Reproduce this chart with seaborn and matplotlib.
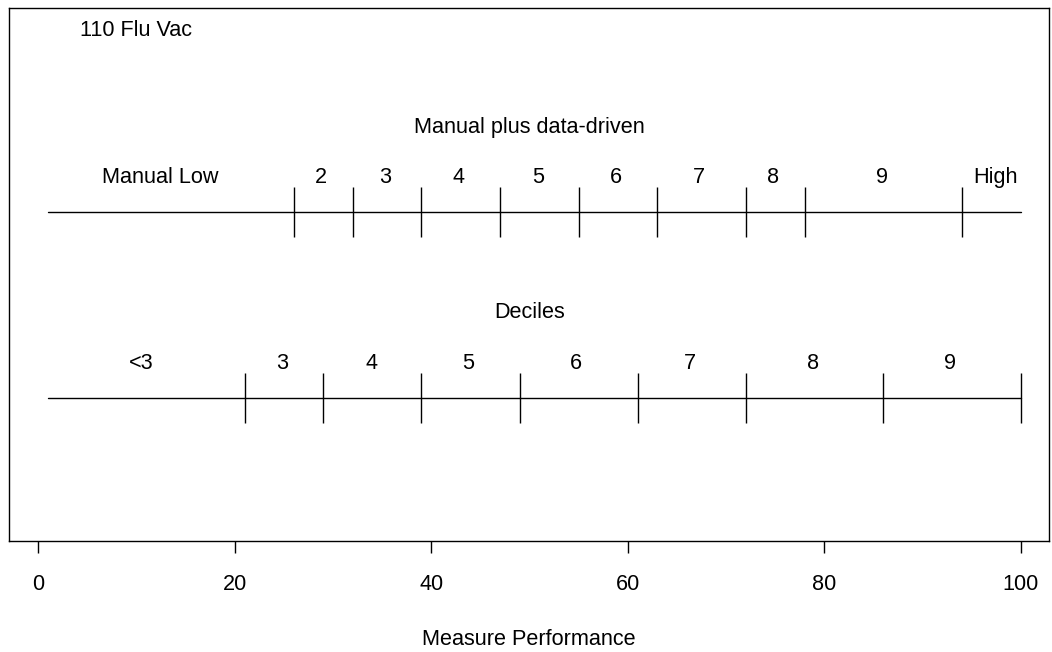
import matplotlib
matplotlib.use('Agg')
import matplotlib.pyplot as plt
import seaborn as sns
import pandas as pd

# Cut points on the measure performance scale
scale_start = 1
scale_end = 100

manual_cuts = [26, 32, 39, 47, 55, 63, 72, 78, 94]
manual_labels = ['Manual Low', '2', '3', '4', '5', '6', '7', '8', '9', 'High']
manual_label_x = [12.4, 28.8, 35.3, 42.8, 50.9, 58.8, 67.2, 74.8, 85.9, 97.4]

decile_cuts = [21, 29, 39, 49, 61, 72, 86, 100]
decile_labels = ['<3', '3', '4', '5', '6', '7', '8', '9']
decile_label_x = [10.5, 24.8, 33.9, 43.8, 54.7, 66.3, 78.8, 92.8]

row_titles = ['Manual plus data-driven', 'Deciles']
measure_name = '110 Flu Vac'
x_ticks = [0, 20, 40, 60, 80, 100]

sns.set_style('white')
plt.rcParams['font.family'] = ['Liberation Sans', 'DejaVu Sans']
plt.rcParams['text.color'] = 'black'
plt.rcParams['xtick.color'] = 'black'
plt.rcParams['axes.labelcolor'] = 'black'

fig = plt.figure(figsize=(10.52, 6.52), dpi=100)
ax = fig.add_axes([9 / 1052, 111 / 652, 1040 / 1052, 533 / 652])

row_y = {'manual': 2.0, 'deciles': 1.0}
tick_half = 0.134
label_off = 0.186
title_off = 0.457
fs = 15.6

def draw_row(y, cuts, label_x, labels, title):
    line = pd.DataFrame({'x': [scale_start, scale_end], 'y': [y, y]})
    sns.lineplot(data=line, x='x', y='y', color='black', linewidth=1.0, ax=ax)
    ax.vlines(cuts, y - tick_half, y + tick_half, color='black', linewidth=1.0)
    for lx, lab in zip(label_x, labels):
        ax.text(lx, y + label_off, lab, ha='center', va='center', fontsize=fs)
    ax.text(50, y + title_off, title, ha='center', va='center', fontsize=fs)

draw_row(row_y['manual'], manual_cuts, manual_label_x, manual_labels, row_titles[0])
draw_row(row_y['deciles'], decile_cuts, decile_label_x, decile_labels, row_titles[1])

ax.text(10, 2.978, measure_name, ha='center', va='center', fontsize=fs)

ax.set_xlim(-2.96, 102.85)
ax.set_ylim(0.231, 3.097)
ax.set_xticks(x_ticks)
ax.set_yticks([])
ax.tick_params(axis='x', bottom=True, length=8.6, width=1.0, pad=15.5, labelsize=fs, color='black')
ax.set_xlabel('Measure Performance', fontsize=fs, labelpad=24)
ax.set_ylabel('')
for sp in ax.spines.values():
    sp.set_visible(True)
    sp.set_color('black')
    sp.set_linewidth(1.0)

fig.savefig('out.png', dpi=100)
